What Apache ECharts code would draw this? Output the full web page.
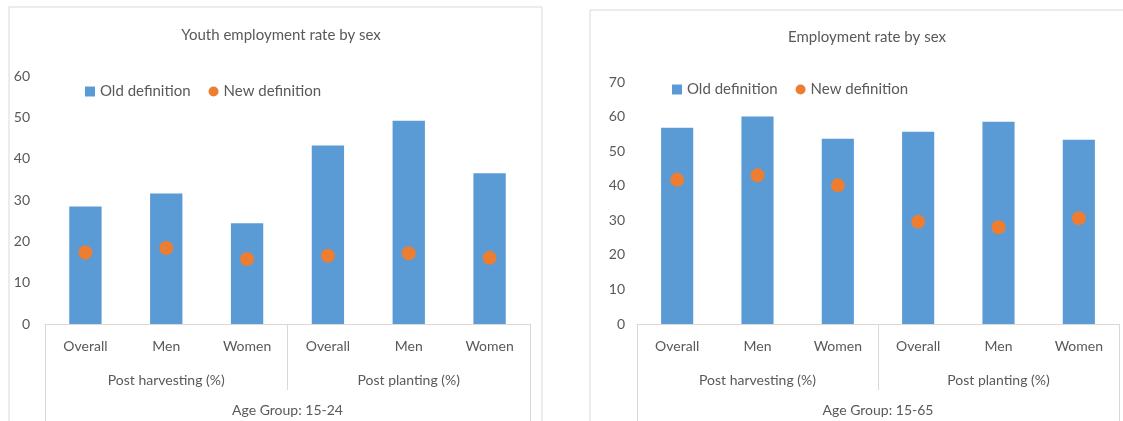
<!DOCTYPE html>
<html>
<head>
<meta charset="utf-8">
<script src="https://cdn.jsdelivr.net/npm/echarts@6/dist/echarts.min.js"></script>
<style>
  html, body { margin: 0; padding: 0; background: #fff; }
  #chart { width: 1123px; height: 421px; }
</style>
</head>
<body>
<div id="chart"></div>
<script>
// Category labels shared by both panels
const categories = ['Overall', 'Men', 'Women', 'Overall', 'Men', 'Women'];
const periods = ['Post harvesting (%)', 'Post planting (%)'];

// Youth (15-24) employment rate
const youthOld = [28.4, 31.6, 24.4, 43.2, 49.2, 36.5];
const youthNew = [17.3, 18.4, 15.7, 16.5, 17.1, 16.0];

// Working-age (15-65) employment rate
const adultOld = [56.8, 60.0, 53.6, 55.6, 58.5, 53.3];
const adultNew = [41.7, 43.0, 40.1, 29.6, 28.0, 30.6];

const titles = ['Youth employment rate by sex', 'Employment rate by sex'];
const ageGroups = ['Age Group: 15-24', 'Age Group: 15-65'];
const yMax = [60, 70];

const FONT = 'Lato, "Open Sans", sans-serif';
const TXT = '#595959';
const LINE = '#d9d9d9';
const BLUE = '#5B9BD5';
const ORANGE = '#ED7D31';

const panels = [
  { grid: { left: 45, top: 76, width: 485, height: 248 }, frame: { x: 9, y: 7, width: 533, height: 440 }, titleX: 276, titleY: 23, legendX: 80, legendY: 79 },
  { grid: { left: 637, top: 82, width: 482, height: 242 }, frame: { x: 590, y: 10, width: 560, height: 440 }, titleX: 862, titleY: 25, legendX: 667, legendY: 77 }
];

const chart = echarts.init(document.getElementById('chart'), null, { renderer: 'canvas' });

const option = {
  animation: false,
  textStyle: { fontFamily: FONT, color: TXT },
  title: panels.map((p, i) => ({
    text: titles[i], left: p.titleX, top: p.titleY, textAlign: 'center',
    textStyle: { fontFamily: FONT, fontSize: 15, fontWeight: 'normal', color: TXT }
  })),
  legend: panels.map((p, i) => ({
    left: p.legendX, top: p.legendY, itemWidth: 10, itemHeight: 10, itemGap: 18,
    textStyle: { fontFamily: FONT, fontSize: 15, color: TXT },
    selectedMode: false,
    data: [{ name: 'Old definition', icon: 'rect' }, { name: 'New definition', icon: 'circle' }]
  })),
  grid: panels.map(p => p.grid),
  xAxis: [],
  yAxis: [],
  series: [],
  graphic: panels.map(p => ({
    type: 'rect', shape: p.frame, silent: true, z: -1,
    style: { fill: 'none', stroke: LINE, lineWidth: 1 }
  }))
};

panels.forEach((p, i) => {
  const base = option.xAxis.length;
  // Level 1: sex categories
  option.xAxis.push({
    type: 'category', gridIndex: i, data: categories, position: 'bottom',
    axisLine: { show: true, lineStyle: { color: LINE } },
    axisTick: { show: false },
    axisLabel: { margin: 15, fontSize: 14, color: TXT, fontFamily: FONT, interval: 0 }
  });
  // Level 2: survey round, with the divider lines
  option.xAxis.push({
    type: 'category', gridIndex: i, data: periods, position: 'bottom',
    axisLine: { show: false },
    axisTick: { show: true, length: 66, lineStyle: { color: LINE } },
    axisLabel: { margin: 49, fontSize: 14, color: TXT, fontFamily: FONT, interval: 0 }
  });
  // Level 3: age group, with the outer box edges
  option.xAxis.push({
    type: 'category', gridIndex: i, data: [ageGroups[i]], position: 'bottom',
    axisLine: { show: false },
    axisTick: { show: true, length: 110, lineStyle: { color: LINE } },
    axisLabel: { margin: 79, fontSize: 14, color: TXT, fontFamily: FONT }
  });
  option.yAxis.push({
    type: 'value', gridIndex: i, min: 0, max: yMax[i], interval: 10,
    axisLine: { show: false }, axisTick: { show: false }, splitLine: { show: false },
    axisLabel: { margin: i === 0 ? 15 : 12, fontSize: 14, color: TXT, fontFamily: FONT }
  });
  const oldVals = i === 0 ? youthOld : adultOld;
  const newVals = i === 0 ? youthNew : adultNew;
  option.series.push({
    name: 'Old definition', type: 'bar', xAxisIndex: base, yAxisIndex: i,
    data: oldVals, barWidth: '40%', itemStyle: { color: BLUE }
  });
  option.series.push({
    name: 'New definition', type: 'scatter', xAxisIndex: base, yAxisIndex: i,
    data: newVals, symbol: 'circle', symbolSize: 14, itemStyle: { color: ORANGE, opacity: 1 }, z: 3
  });
});

chart.setOption(option);
</script>
</body>
</html>
